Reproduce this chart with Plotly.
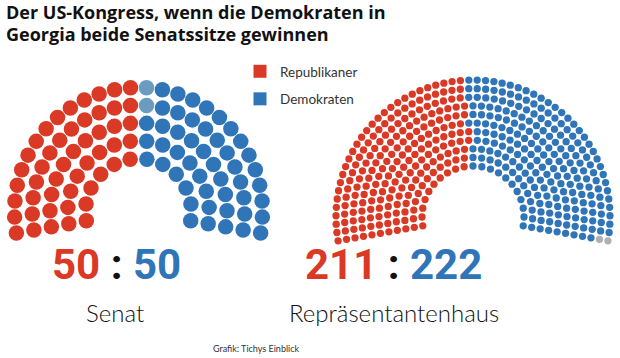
import numpy as np
import plotly.graph_objects as go

# ---------------- data ----------------
title_lines = ["Der US-Kongress, wenn die Demokraten in",
               "Georgia beide Senatssitze gewinnen"]
senate_parties = ["Republikaner", "Unabhängige", "Demokraten"]
senate_seats = [50, 2, 48]
house_parties = ["Republikaner", "Demokraten", "Vakant"]
house_seats = [211, 222, 2]
chamber_names = ["Senat", "Repräsentantenhaus"]
legend_labels = ["Republikaner", "Demokraten"]
source_text = "Grafik: Tichys Einblick"

colors = {"Republikaner": "#da3926", "Unabhängige": "#6b9cc0",
          "Demokraten": "#2f75b8", "Vakant": "#b0b0b0"}

W, H = 620, 358


def row_counts(total, radii):
    raw = total * radii / radii.sum()
    counts = np.floor(raw).astype(int)
    rem = int(total - counts.sum())
    order = np.argsort(-(raw - counts))
    counts[order[:rem]] += 1
    return counts


def seat_positions(total, rows, r_in, r_out, cx, cy, extra=10.0):
    radii = np.linspace(r_in, r_out, rows)
    counts = row_counts(total, radii)
    pts = []
    for r, n in zip(radii, counts):
        for i in range(n):
            a = 180 + extra - i * (180 + 2 * extra) / (n - 1)
            pts.append((round(a, 6), r))
    pts.sort(key=lambda p: (-p[0], p[1]))
    xs = [cx + r * np.cos(np.radians(a)) for a, r in pts]
    ys = [cy - r * np.sin(np.radians(a)) for a, r in pts]
    return xs, ys


fig = go.Figure()


def add_chamber(parties, seats, rows, r_in, r_out, cx, cy, size):
    xs, ys = seat_positions(sum(seats), rows, r_in, r_out, cx, cy)
    start = 0
    for p, n in zip(parties, seats):
        fig.add_trace(go.Scatter(
            x=xs[start:start + n], y=ys[start:start + n], mode="markers",
            marker=dict(size=size, color=colors[p], line=dict(width=0)),
            name=p, showlegend=False, hoverinfo="skip"))
        start += n


add_chamber(senate_parties, senate_seats, 5, 53, 124, 138.5, 211.5, 15.5)
add_chamber(house_parties, house_seats, 11, 51, 137, 473, 217, 7.3)

for i, lab in enumerate(legend_labels):
    fig.add_trace(go.Scatter(
        x=[None], y=[None], mode="markers", name=lab,
        marker=dict(symbol="square", size=13, color=colors[lab]),
        legendgroup=lab, showlegend=True))

num_font = "Roboto, Liberation Sans, sans-serif"
sen_r = senate_seats[0]
sen_d = senate_seats[1] + senate_seats[2]
hou_r = house_seats[0]
hou_d = house_seats[1]


def score(r, d):
    return (f"<span style='color:{colors['Republikaner']}'>{r}</span>"
            f"<span style='color:#111'> : </span>"
            f"<span style='color:{colors['Demokraten']}'>{d}</span>")


title_font = dict(family="Open Sans", size=18, color="#111", weight=700)
label_font = dict(family="Lato", size=24, color="#111", weight=300)

annotations = [
    dict(x=4, y=12, text=title_lines[0], xanchor="left", yanchor="middle",
         font=title_font),
    dict(x=4, y=34, text=title_lines[1], xanchor="left", yanchor="middle",
         font=title_font),
    dict(x=116, y=264, text=f"<b>{score(sen_r, sen_d)}</b>", xanchor="center", yanchor="middle",
         font=dict(family=num_font, size=42)),
    dict(x=393, y=264, text=f"<b>{score(hou_r, hou_d)}</b>", xanchor="center", yanchor="middle",
         font=dict(family=num_font, size=42)),
    dict(x=115, y=312, text=chamber_names[0], xanchor="center", yanchor="middle",
         font=label_font),
    dict(x=394, y=312, text=chamber_names[1], xanchor="center", yanchor="middle",
         font=label_font),
    dict(x=256, y=348, text=source_text, xanchor="center", yanchor="middle",
         font=dict(family="Lato", size=9, color="#333")),
]
for a in annotations:
    a.update(xref="x", yref="y", showarrow=False)

fig.update_layout(
    width=W, height=H, margin=dict(l=0, r=0, t=0, b=0),
    paper_bgcolor="white", plot_bgcolor="white",
    xaxis=dict(range=[0, W], visible=False, fixedrange=True),
    yaxis=dict(range=[H, 0], visible=False, fixedrange=True),
    annotations=annotations,
    showlegend=True,
    legend=dict(x=240 / W, y=1 - 56 / H, xanchor="left", yanchor="top",
                font=dict(family="Lato", size=13.5, color="#333"),
                tracegroupgap=7, bgcolor="rgba(0,0,0,0)"),
)

fig.write_html("out.html", post_script="document.body.style.margin='0';",
               config={"displayModeBar": False})
